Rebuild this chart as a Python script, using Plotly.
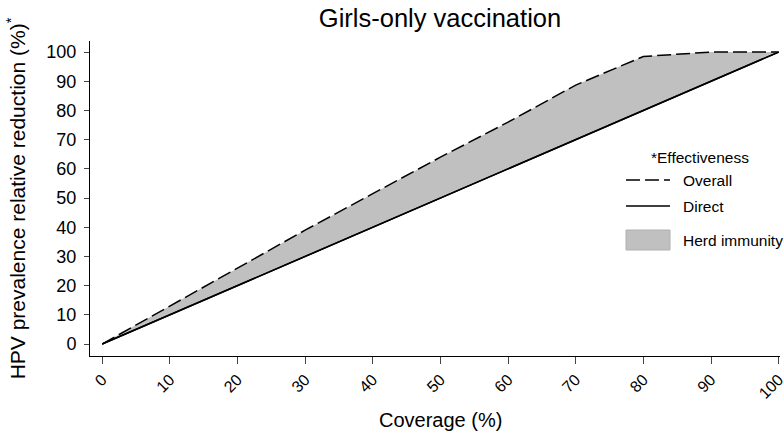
import plotly.graph_objects as go

coverage = [0, 10, 20, 30, 40, 50, 60, 70, 80, 90, 100]
overall = [0, 13, 26, 39, 51.5, 64, 76, 88.7, 98.5, 100, 100]
direct = [0, 10, 20, 30, 40, 50, 60, 70, 80, 90, 100]
x_ticks = [0, 10, 20, 30, 40, 50, 60, 70, 80, 90, 100]
y_ticks = [0, 10, 20, 30, 40, 50, 60, 70, 80, 90, 100]
legend_title = "*Effectiveness"
legend_labels = ["Overall", "Direct", "Herd immunity"]
x_title = "Coverage (%)"

FONT = "Liberation Sans, Arial, sans-serif"
DASH = "14px,5px"

# plot area in pixels
L, R, T, B = 90, 780, 41, 356
W, H = 784, 433


def px(xp):
    return (xp - L) / (R - L)


def py(yp):
    return (B - yp) / (B - T)


fig = go.Figure()
fig.add_trace(go.Scatter(x=coverage, y=direct, mode="lines", line=dict(color="black", width=1.5),
                         showlegend=False, hoverinfo="skip"))
fig.add_trace(go.Scatter(x=coverage, y=overall, mode="lines", fill="tonexty", fillcolor="#c0c0c0",
                         line=dict(width=0), name="Herd immunity", showlegend=False))
fig.add_trace(go.Scatter(x=coverage, y=overall, mode="lines",
                         line=dict(color="black", width=1.5, dash=DASH),
                         name="Overall", showlegend=False))
fig.add_trace(go.Scatter(x=coverage, y=direct, mode="lines", line=dict(color="black", width=1.5),
                         name="Direct", showlegend=False))

# manual legend
shapes = [
    dict(type="line", xref="paper", yref="paper", x0=px(626), x1=px(670), y0=py(180), y1=py(180),
         line=dict(color="black", width=1.5, dash=DASH)),
    dict(type="line", xref="paper", yref="paper", x0=px(626), x1=px(670), y0=py(206), y1=py(206),
         line=dict(color="black", width=1.5)),
    dict(type="rect", xref="paper", yref="paper", x0=px(626), x1=px(670), y0=py(230), y1=py(250),
         fillcolor="#c0c0c0", line=dict(color="#b0b0b0", width=1)),
]
annotations = [
    dict(text=legend_title, xref="paper", yref="paper", x=px(700), y=py(157), xanchor="center",
         yanchor="middle", showarrow=False, font=dict(size=15.5)),
    dict(text=x_title, xref="paper", yref="paper", x=px(441), y=py(420), xanchor="center",
         yanchor="middle", showarrow=False, font=dict(size=20)),
]
for lbl, yp in zip(legend_labels, [180, 206, 240]):
    annotations.append(dict(text=lbl, xref="paper", yref="paper", x=px(681), y=py(yp), xanchor="left",
                            yanchor="middle", showarrow=False, font=dict(size=15.5)))

fig.update_layout(
    width=W, height=H,
    margin=dict(l=L, r=W - R, t=T, b=H - B),
    paper_bgcolor="white", plot_bgcolor="white",
    font=dict(family=FONT, color="black"),
    title=dict(text="Girls-only vaccination", x=440 / W, xanchor="center",
               y=1 - 18 / H, yanchor="middle", font=dict(size=25.5)),
    shapes=shapes, annotations=annotations,
    showlegend=False,
)
fig.update_xaxes(range=[-1.8, 100.2], tickvals=x_ticks, ticktext=[str(v) for v in x_ticks],
                 tickangle=-45, ticks="outside", ticklen=7, tickcolor="#444",
                 showline=True, linecolor="black", linewidth=1, showgrid=False, zeroline=False,
                 tickfont=dict(size=16), automargin=False, ticklabeloverflow="allow")
fig.update_yaxes(range=[-4.1, 103.8], tickvals=y_ticks, ticktext=[str(v) for v in y_ticks],
                 ticks="outside", ticklen=5, tickcolor="#444",
                 showline=True, linecolor="black", linewidth=1, showgrid=False, zeroline=False,
                 tickfont=dict(size=18), automargin=False, ticklabeloverflow="allow",
                 ticklabelstandoff=4,
                 title=dict(text="HPV prevalence relative reduction (%)<sup>*</sup>", font=dict(size=21),
                            standoff=15))

fig.write_html("out.html", post_script="document.body.style.margin='0';",
               config={"displayModeBar": False})
